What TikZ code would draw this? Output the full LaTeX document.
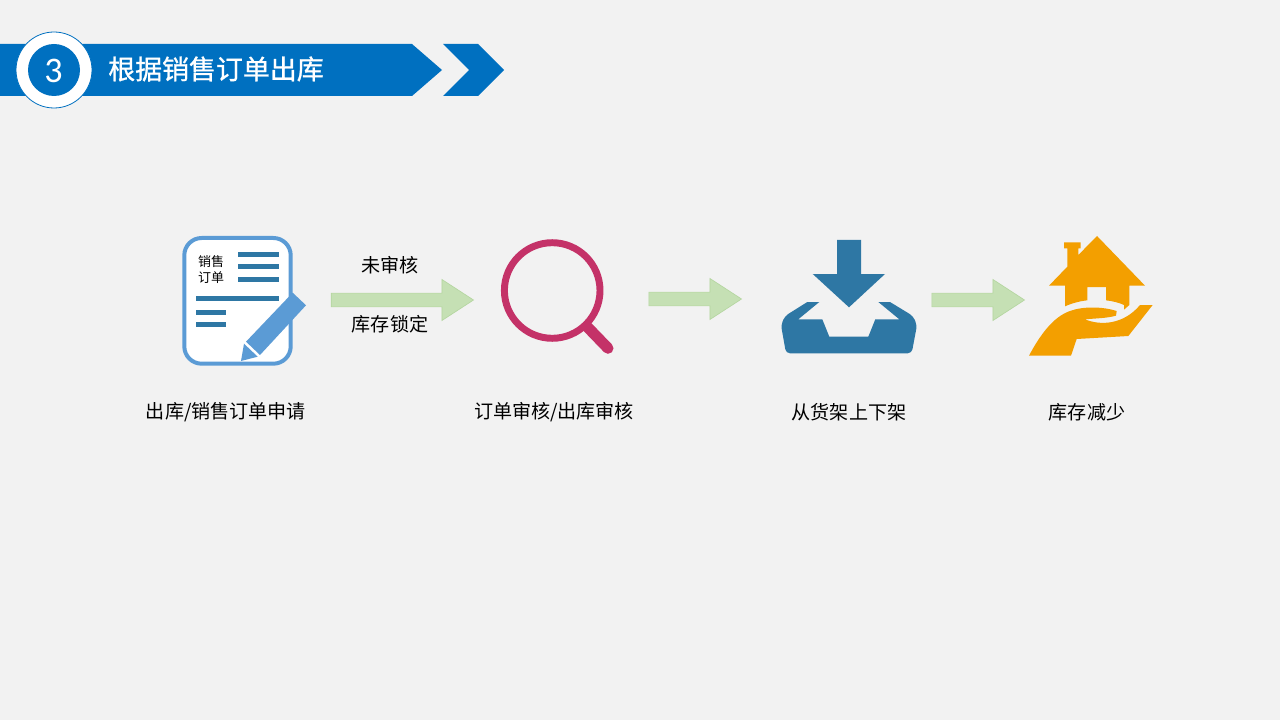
\documentclass[tikz,border=0pt]{standalone}
\usepackage{fontspec}
\setmainfont{Noto Sans CJK SC}
\newfontfamily\digitfont{Carlito}
\newfontfamily\titlefont[FakeBold=1]{Noto Sans CJK SC}
\usetikzlibrary{shapes.arrows}
\definecolor{bgray}{HTML}{F2F2F2}
\definecolor{bannerblue}{HTML}{0070C0}
\definecolor{docblue}{HTML}{5B9BD5}
\definecolor{steelblue}{HTML}{2E77A4}
\definecolor{lensred}{HTML}{C43268}
\definecolor{homeorange}{HTML}{F39F00}
\definecolor{arrowgreen}{HTML}{C5E0B4}
\definecolor{arrowedge}{HTML}{B4D6A0}
\tikzset{
  flowarrow/.style={single arrow, draw=arrowedge, fill=arrowgreen, line width=.5pt,
    inner xsep=0pt, inner ysep=4.9pt, outer sep=0pt, anchor=tip,
    minimum height=69.5pt, single arrow head extend=10.2pt,
    single arrow tip angle=66},
  steplabel/.style={font=\fontsize{14.3pt}{16pt}\selectfont, text=black, inner sep=0pt},
  docbar/.style={fill=steelblue}
}
\begin{document}
\begin{tikzpicture}[x=.75pt,y=-.75pt]
        \useasboundingbox[fill=bgray] (0,0) rectangle (1280,720);
        % Banner
        \fill[bannerblue] (0,44) -- (412,44) -- (442,70) -- (412,96) -- (0,96) -- cycle;
        \fill[bannerblue] (443,44) -- (478,44) -- (504,70) -- (478,96) -- (443,96) -- (469,70) -- cycle;
        \draw[bannerblue, fill=white, line width=.6pt] (54,70) circle (38);
        \fill[bannerblue] (54,70) circle (26);
        \node[text=white, inner sep=0pt, font=\digitfont\fontsize{27pt}{30pt}\selectfont] (badge) at (53.5,70.5) {3};
        \node[anchor=west, text=white, inner sep=0pt, font=\titlefont\fontsize{20.2pt}{24pt}\selectfont] (title) at (108,69) {根据销售订单出库};
        % Order form
        \draw[docblue, fill=white, line width=3pt, rounded corners=13pt] (184.3,238) rectangle (290.7,363.7);
        \fill[docbar] (238,252) rectangle (279,257);
        \fill[docbar] (238,264) rectangle (279,269);
        \fill[docbar] (238,277) rectangle (279,282);
        \fill[docbar] (196,296) rectangle (279,301);
        \fill[docbar] (196,310) rectangle (226,315);
        \fill[docbar] (196,322) rectangle (226,327);
        \node[inner sep=0pt, font=\fontsize{9.75pt}{12pt}\selectfont] (formtop) at (211,261.5) {销售};
        \node[inner sep=0pt, font=\fontsize{9.75pt}{12pt}\selectfont] (formbottom) at (211,277.5) {订单};
        \fill[docblue] (292.7,292.7) -- (306,305.3) -- (260,355) -- (246,341.7) -- cycle;
        \fill[docblue] (244,343.7) -- (257.7,356.7) -- (241,361) -- cycle;
        % Magnifier
        \draw[lensred, line width=5.2pt] (552.2,290.5) circle (47.8);
        \draw[lensred, line width=8.25pt, line cap=round] (587.7,327.3) -- (608,348.3);
        % Tray
        \fill[steelblue] (837,240) -- (861,240) -- (861,274) -- (885,274) -- (849,307.3) -- (812.7,274) -- (837,274) -- cycle;
        \fill[steelblue] (807.3,302) -- (819.3,302) -- (798.3,319.3) -- (822.3,319.3) -- (829.3,336.7) -- (868.3,336.7) -- (875.3,319.3) -- (899.3,319.3) -- (878.3,302) -- (890,302) [rounded corners=3pt] -- (913,316) -- (917,325) -- (911.7,353.3) -- (786,353.3) -- (781,325) -- (785,316) [sharp corners] -- cycle;
        % House and hand
        \begin{scope}[shift={(1020,225)},x=.25pt,y=-.25pt]
            \fill[homeorange] (231,33) -- (375,182) -- (328,182) -- (328,240) -- (312,254) -- (312,240) .. controls (295,232) and (275,228) .. (258,226) -- (258,186) -- (202,186) -- (202,226) .. controls (180,228) and (155,235) .. (135,244) -- (135,182) -- (87,182) -- (142,125) -- (142,70) -- (132,70) -- (132,52) -- (182,52) -- (182,70) -- (175,70) -- (175,90) -- cycle;
            \fill[homeorange] (27,392) .. controls (60,330) and (100,275) .. (150,258) .. controls (190,243) and (250,245) .. (290,258) -- (288,272) .. controls (260,280) and (225,280) .. (195,283) .. controls (240,302) and (310,300) .. (360,240) -- (398,240) -- (325,333) -- (170,342) -- (153,392) -- cycle;
        \end{scope}
        % Flow
        \node[flowarrow, minimum height=106.75pt] (arrowa) at (473.5,300) {};
        \node[flowarrow] (arrowb) at (741.5,299) {};
        \node[flowarrow] (arrowc) at (1024.5,300) {};
        \node[steplabel] (pending) at (390,265) {未审核};
        \node[steplabel] (locked) at (390,324) {库存锁定};
        % Captions
        \node[steplabel] (apply) at (226,412.5) {出库/销售订单申请};
        \node[steplabel] (review) at (554,412.5) {订单审核/出库审核};
        \node[steplabel] (shelf) at (849,412.5) {从货架上下架};
        \node[steplabel] (stock) at (1087,412.5) {库存减少};
    \end{tikzpicture}
\end{document}
